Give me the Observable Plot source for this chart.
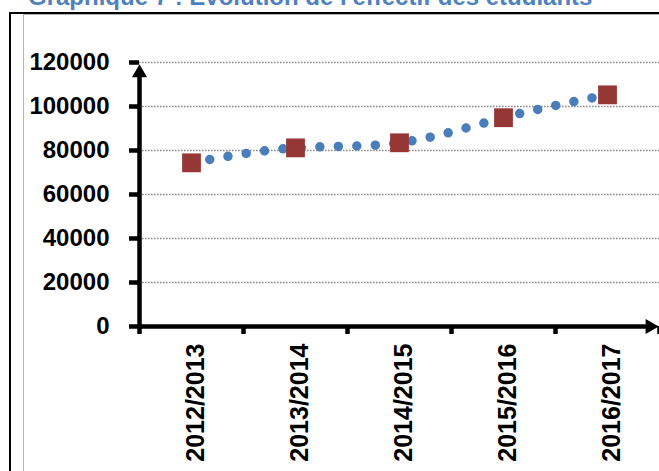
<!DOCTYPE html>
<html>
<head>
<meta charset="utf-8">
<script src="https://cdn.jsdelivr.net/npm/d3@7"></script>
<script src="https://cdn.jsdelivr.net/npm/@observablehq/plot@0.6"></script>
<style>
  body { margin: 0; background: #fff; overflow: hidden; font-family: "Liberation Sans", Arial, sans-serif; }
  #wrap { position: relative; width: 659px; height: 471px; overflow: hidden; }
  #titre { position: absolute; left: 28px; top: -15px; line-height: 24px; font-size: 24px; font-weight: bold; color: #4F81BD; white-space: nowrap; }
  #cadre { position: absolute; left: 9px; top: 12px; width: 700px; height: 500px; border-left: 2.5px solid #000; border-top: 2.5px solid #000; }
  #zone { position: absolute; left: 23px; top: 14px; width: 700px; height: 500px; border-left: 1.5px solid #b5b5b5; border-top: 1.5px solid #b5b5b5; }
  #chart { position: absolute; left: 0; top: 0; }
</style>
</head>
<body>
<div id="wrap">
  <div id="titre">Graphique 7 : Evolution de l'effectif des étudiants</div>
  <div id="cadre"></div>
  <div id="zone"></div>
  <div id="chart"></div>
</div>
<script>
// effectif des étudiants par année universitaire
const annees = ["2012/2013", "2013/2014", "2014/2015", "2015/2016", "2016/2017"];
const effectifs = [74400, 81200, 83500, 94900, 105300];
const yTicks = [0, 20000, 40000, 60000, 80000, 100000, 120000];

const data = annees.map((a, i) => ({i, annee: a, effectif: effectifs[i]}));
const xDomain = [-0.5, annees.length - 0.5];
const yDomain = [0, 120000];
// graduations entre les catégories (style Excel)
const bords = d3.range(annees.length + 1).map(k => k - 0.5);

let chart = Plot.plot({
  width: 659,
  height: 471,
  marginLeft: 139,
  marginRight: 0,
  marginTop: 62,
  marginBottom: 145,
  style: {background: "none", overflow: "visible", fontFamily: "Liberation Sans, Arial, sans-serif", fontWeight: "bold", color: "#000"},
  x: {domain: xDomain},
  y: {domain: yDomain},
  marks: [
    Plot.gridY(yTicks.slice(1), {stroke: "#8c8c8c", strokeOpacity: 1, strokeWidth: 1.6, strokeDasharray: "1.6 1.4"}),
    Plot.axisY({ticks: yTicks, tickSize: 10, tickPadding: 20, tickFormat: d => String(d), fontSize: 24, fontWeight: "bold", strokeWidth: 4.5, label: null}),
    Plot.axisX({ticks: bords, tickSize: 8, tickFormat: () => "", strokeWidth: 4.5, label: null}),
    Plot.axisX({ticks: d3.range(annees.length), tickSize: 0, tickPadding: 17, tickRotate: -90, dx: 4, tickFormat: i => annees[i], fontSize: 25, fontWeight: "bold", label: null}),
    Plot.ruleY([0], {stroke: "#000", strokeWidth: 4.5, insetRight: 11}),
    Plot.ruleX([xDomain[0]], {stroke: "#000", strokeWidth: 4.5, insetTop: 10}),
    Plot.dot([[xDomain[0], yDomain[1]]], {x: d => d[0], y: d => d[1], symbol: "triangle", r: 5.6, fill: "#000", dy: 10.5}),
    Plot.dot([[xDomain[1], 0]], {x: d => d[0], y: d => d[1], symbol: "triangle", r: 5.6, fill: "#000", rotate: 90, dx: -9.5}),
    // courbe de tendance en pointillés
    Plot.line(data, {x: "i", y: "effectif", curve: "natural", stroke: "#4A7EBB", strokeWidth: 9.5, strokeDasharray: "0 18.5", strokeLinecap: "round"}),
    Plot.dot(data, {x: "i", y: "effectif", symbol: "square", r: 10.6, fill: "#953735"})
  ]
})

d3.select('#chart').append(() => chart)
</script>
</body>
</html>
